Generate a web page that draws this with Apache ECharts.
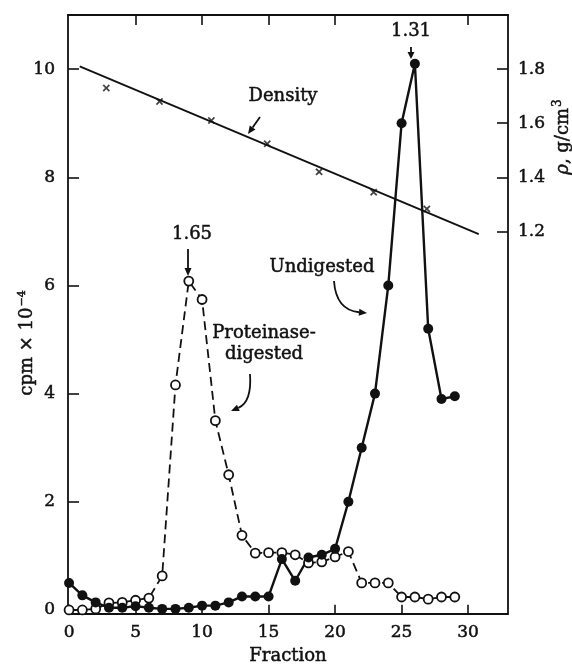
<!DOCTYPE html>
<html>
<head>
<meta charset="utf-8">
<script src="https://cdn.jsdelivr.net/npm/echarts@6/dist/echarts.min.js"></script>
<style>
  html, body { margin: 0; padding: 0; background: #fff; }
  #main { width: 572px; height: 671px; }
</style>
</head>
<body>
<div id="main"></div>
<script>
// fraction numbers
var fractions = [0, 1, 2, 3, 4, 5, 6, 7, 8, 9, 10, 11, 12, 13, 14, 15, 16, 17, 18, 19, 20, 21, 22, 23, 24, 25, 26, 27, 28, 29];
// cpm x 10^-4, filled circles
var undigested = [0.5, 0.27, 0.14, 0.04, 0.04, 0.07, 0.04, 0.02, 0.02, 0.04, 0.08, 0.08, 0.14, 0.25, 0.25, 0.25, 0.94, 0.54, 0.97, 1.02, 1.13, 2.0, 3.0, 4.0, 6.0, 9.0, 10.1, 5.2, 3.9, 3.95];
// cpm x 10^-4, open circles
var digested = [0.0, 0.0, 0.02, 0.13, 0.14, 0.18, 0.22, 0.63, 4.16, 6.08, 5.74, 3.5, 2.5, 1.38, 1.05, 1.06, 1.06, 1.02, 0.87, 0.89, 0.98, 1.08, 0.5, 0.5, 0.5, 0.24, 0.24, 0.2, 0.24, 0.24];
// density measurements (x marks), g/cm3
var densityFractions = [2.8, 6.8, 10.7, 14.9, 18.8, 22.9, 26.9];
var densityValues = [1.73, 1.68, 1.61, 1.524, 1.42, 1.345, 1.283];
// drawn density gradient line (end points)
var densityLineFractions = [0.8, 30.8];
var densityLineValues = [1.81, 1.19];
// ticks
var xTicks = [0, 5, 10, 15, 20, 25, 30];
var xTopTicks = [5, 10, 15, 20, 30];
var cpmTicks = [0, 2, 4, 6, 8, 10];
var rhoTicks = [1.2, 1.4, 1.6, 1.8];

var FONT = "DejaVu Serif";
var INK = "#111";
var THICK = 0.5; // slight stroke to get the heavier print look

function pairs(xs, ys) {
  return xs.map(function (x, i) { return [x, ys[i]]; });
}

// straight arrow (line + head)
function arrow(x1, y1, x2, y2, head) {
  var ang = Math.atan2(y2 - y1, x2 - x1);
  var hl = head || 8, hw = 3.5;
  var bx = x2 - hl * Math.cos(ang), by = y2 - hl * Math.sin(ang);
  return [
    { type: "line", shape: { x1: x1, y1: y1, x2: bx, y2: by }, style: { stroke: INK, lineWidth: 1.8 } },
    { type: "polygon", shape: { points: [[x2, y2], [bx - hw * Math.sin(ang), by + hw * Math.cos(ang)], [bx + hw * Math.sin(ang), by - hw * Math.cos(ang)]] }, style: { fill: INK } }
  ];
}

function curvedArrow(x1, y1, cx, cy, x2, y2) {
  var ang = Math.atan2(y2 - cy, x2 - cx);
  var hl = 8, hw = 3.5;
  var bx = x2 - hl * Math.cos(ang), by = y2 - hl * Math.sin(ang);
  return [
    { type: "bezierCurve", shape: { x1: x1, y1: y1, cpx1: cx, cpy1: cy, x2: bx, y2: by }, style: { stroke: INK, lineWidth: 1.8, fill: null } },
    { type: "polygon", shape: { points: [[x2, y2], [bx - hw * Math.sin(ang), by + hw * Math.cos(ang)], [bx + hw * Math.sin(ang), by - hw * Math.cos(ang)]] }, style: { fill: INK } }
  ];
}

function label(text, x, y, size) {
  return {
    type: "text", x: x, y: y,
    style: {
      text: text, font: (size || 18) + "px " + FONT, fill: INK, align: "center", verticalAlign: "middle", lineHeight: 21,
      stroke: INK, lineWidth: THICK
    }
  };
}

var chart = echarts.init(document.getElementById("main"));

var graphics = []
  .concat([label("Density", 283, 96)])
  .concat(arrow(260, 117, 248, 134))
  .concat([label("1.65", 192, 234)])
  .concat(arrow(188, 249, 188, 276))
  .concat([label("1.31", 411, 31)])
  .concat(arrow(411, 47, 411, 59, 7))
  .concat([label("Undigested", 322, 267)])
  .concat(curvedArrow(334, 281, 336, 310, 367, 313))
  .concat([label("Proteinase-\ndigested", 264, 344)])
  .concat(curvedArrow(250, 374, 252, 402, 231, 411))
  .concat([
    {
      type: "text", x: 27, y: 343, rotation: Math.PI / 2,
      style: {
        text: "cpm × 10{sup|−4}", font: "18px " + FONT, fill: INK, align: "center", verticalAlign: "middle",
        stroke: INK, lineWidth: THICK,
        rich: { sup: { fontSize: 11, fontFamily: FONT, verticalAlign: "bottom", padding: [0, 0, 10, 1] } }
      }
    },
    {
      type: "text", x: 563, y: 137, rotation: Math.PI / 2,
      style: {
        text: "{it|ρ}, g/cm{sup|3}", font: "18px " + FONT, fill: INK, align: "center", verticalAlign: "middle",
        stroke: INK, lineWidth: THICK,
        rich: {
          it: { fontSize: 18, fontFamily: FONT, fontStyle: "italic" },
          sup: { fontSize: 12, fontFamily: FONT, verticalAlign: "bottom", padding: [0, 0, 10, 1] }
        }
      }
    }
  ]);

var tickText = { fontSize: 17, fontFamily: FONT, color: INK, textBorderColor: INK, textBorderWidth: THICK };

chart.setOption({
  animation: false,
  backgroundColor: "#fff",
  textStyle: { fontFamily: FONT, color: INK },
  grid: { left: 68, right: 64, top: 15, bottom: 57 },
  xAxis: [
    {
      type: "value", min: -0.08, max: 33,
      axisLine: { onZero: false, lineStyle: { color: INK, width: 1.8 } },
      axisTick: { inside: true, length: 9, customValues: xTicks, lineStyle: { color: INK, width: 1.6 } },
      axisLabel: Object.assign({ customValues: xTicks, margin: 10 }, tickText),
      splitLine: { show: false },
      name: "Fraction", nameLocation: "middle", nameGap: 34,
      nameTextStyle: { fontSize: 18, fontFamily: FONT, color: INK, textBorderColor: INK, textBorderWidth: THICK }
    },
    {
      type: "value", min: -0.08, max: 33, position: "top",
      axisLine: { onZero: false, lineStyle: { color: INK, width: 2 } },
      axisTick: { inside: true, length: 10, customValues: xTopTicks, lineStyle: { color: INK, width: 1.6 } },
      axisLabel: { show: false },
      splitLine: { show: false }
    }
  ],
  yAxis: [
    {
      type: "value", min: -0.07, max: 11,
      axisLine: { show: true, onZero: false, lineStyle: { color: INK, width: 1.8 } },
      axisTick: { show: true, inside: true, length: 11, customValues: cpmTicks, lineStyle: { color: INK, width: 1.6 } },
      axisLabel: Object.assign({ customValues: cpmTicks, margin: 13 }, tickText),
      splitLine: { show: false }
    },
    {
      type: "value", min: -0.214, max: 2.0, position: "right",
      axisLine: { show: true, onZero: false, lineStyle: { color: INK, width: 1.8 } },
      axisTick: { show: true, inside: true, length: 11, customValues: rhoTicks, lineStyle: { color: INK, width: 1.6 } },
      axisLabel: Object.assign({
        customValues: rhoTicks, margin: 10,
        formatter: function (v) { return v.toFixed(1); }
      }, tickText),
      splitLine: { show: false }
    }
  ],
  series: [
    {
      name: "Density line", type: "line", yAxisIndex: 1,
      data: pairs(densityLineFractions, densityLineValues),
      showSymbol: false, symbol: "none",
      lineStyle: { color: INK, width: 1.8 }
    },
    {
      name: "Density", type: "scatter", yAxisIndex: 1,
      data: pairs(densityFractions, densityValues),
      symbol: "path://M0,1.5L1.5,0L5,3.5L8.5,0L10,1.5L6.5,5L10,8.5L8.5,10L5,6.5L1.5,10L0,8.5L3.5,5Z",
      symbolSize: 7,
      itemStyle: { color: INK, borderColor: INK, borderWidth: 0.3 }
    },
    {
      name: "Proteinase-digested", type: "line",
      data: pairs(fractions, digested),
      symbol: "circle", symbolSize: 9,
      itemStyle: { color: "#fff", borderColor: INK, borderWidth: 1.8 },
      lineStyle: { color: INK, width: 1.8, type: [9, 5] }
    },
    {
      name: "Undigested", type: "line",
      data: pairs(fractions, undigested),
      symbol: "circle", symbolSize: 10,
      itemStyle: { color: INK, borderColor: INK, borderWidth: 0 },
      lineStyle: { color: INK, width: 2.4 }
    }
  ],
  graphic: graphics
});
</script>
</body>
</html>
